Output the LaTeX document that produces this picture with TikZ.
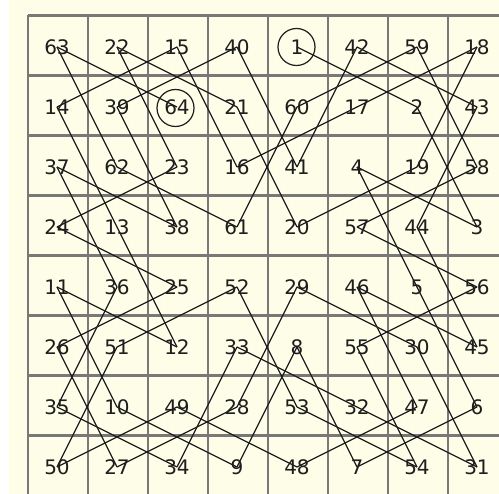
\documentclass[tikz,border=0pt]{standalone}
\usepackage{fontspec}
\setmainfont{DejaVu Sans}
\definecolor{cream}{RGB}{253,253,232}
\definecolor{gridgray}{RGB}{120,120,120}
\definecolor{tourink}{RGB}{30,30,30}
\tikzset{
  num/.style={inner sep=0pt, font=\fontsize{20}{24}\selectfont, text=tourink},
  gridline/.style={draw=gridgray, line width=2.2pt},
  tour/.style={draw=tourink, line width=1.2pt},
  ring/.style={draw=tourink, line width=1.2pt},
}
\begin{document}
\begin{tikzpicture}[x=1pt,y=-1pt]
\useasboundingbox (0,0) rectangle (499,494);
\fill[white] (0,0) rectangle (499,494);
\fill[cream] (9,0) rectangle (499,494);
\begin{scope}
\clip (0,0) rectangle (499,494);
\foreach \i in {0,...,8} {
  \draw[gridline] ({28+60*\i},15.5) -- ({28+60*\i},495.9);
  \draw[gridline] (28,{15.5+60*\i}) -- (508,{15.5+60*\i});
}
\end{scope}
\foreach \row [count=\r] in {
  {63,22,15,40,1,42,59,18},
  {14,39,64,21,60,17,2,43},
  {37,62,23,16,41,4,19,58},
  {24,13,38,61,20,57,44,3},
  {11,36,25,52,29,46,5,56},
  {26,51,12,33,8,55,30,45},
  {35,10,49,28,53,32,47,6},
  {50,27,34,9,48,7,54,31}} {
  \foreach \v [count=\c] in \row {
    \node[num] (n\v) at ({60*\c-3},{60*\r-13}) {\v};
  }
}
\foreach \k in {1,...,63} {
  \pgfmathtruncatemacro{\kn}{\k+1}
  \draw[tour] (n\k.center) -- (n\kn.center);
}
\draw[ring] (n1.center) ++(-0.5,0) circle (18.5pt);
\draw[ring] (n64.center) ++(-1.5,1) circle (18.5pt);
\end{tikzpicture}
\end{document}
